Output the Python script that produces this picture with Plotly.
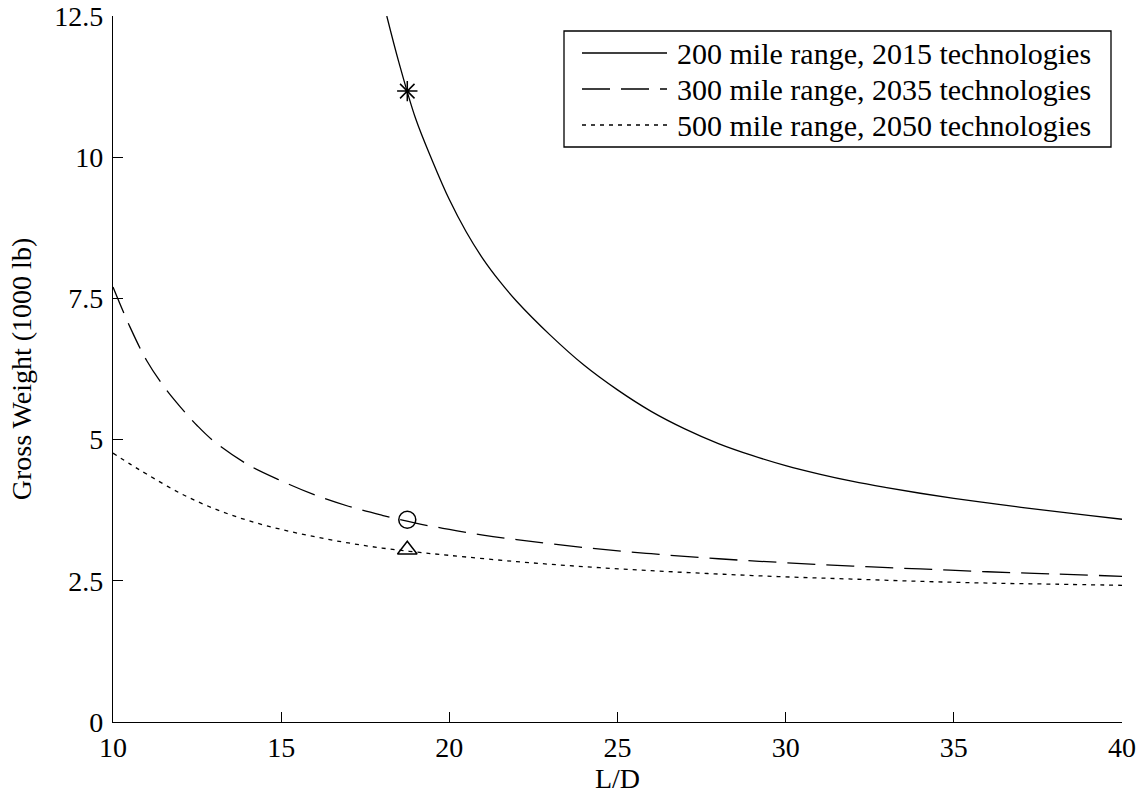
import plotly.graph_objects as go

# ---- data ----
ld_200 = [18.14, 18.5, 19.0, 19.5, 20, 20.5, 21, 21.5, 22, 23, 24, 25, 26, 27, 28, 29, 30,
          31, 32, 33, 34, 35, 36, 37, 38, 39, 40]
gw_200 = [12.5, 11.68, 10.68, 9.93, 9.25, 8.68, 8.2, 7.8, 7.45, 6.85, 6.32, 5.88, 5.5, 5.19, 4.93,
          4.72, 4.54, 4.39, 4.26, 4.15, 4.05, 3.96, 3.88, 3.8, 3.73, 3.66, 3.59]

ld_300 = [10, 10.5, 11, 11.5, 12, 12.5, 13, 14, 15, 16, 17, 18, 19, 20, 21, 22, 24, 26, 28, 30,
          32, 34, 36, 38, 40]
gw_300 = [7.70, 7.0, 6.4, 5.95, 5.58, 5.25, 4.97, 4.56, 4.27, 4.02, 3.82, 3.66, 3.52, 3.41, 3.31,
          3.23, 3.09, 2.98, 2.89, 2.82, 2.76, 2.71, 2.66, 2.62, 2.58]

ld_500 = [10, 10.5, 11, 12, 13, 14, 15, 16, 17, 18, 19, 20, 22, 24, 26, 28, 30, 32, 34, 36, 38, 40]
gw_500 = [4.76, 4.57, 4.39, 4.05, 3.78, 3.57, 3.41, 3.28, 3.17, 3.08, 3.01, 2.95, 2.84, 2.75, 2.68,
          2.62, 2.57, 2.53, 2.49, 2.46, 2.44, 2.42]

design_ld = [18.75, 18.75, 18.75]
design_gw = [11.17, 3.58, 3.05]
design_symbols = ["asterisk-open", "circle-open", "triangle-up-open"]

names = ["200 mile range, 2015 technologies",
         "300 mile range, 2035 technologies",
         "500 mile range, 2050 technologies"]

x_ticks = [10, 15, 20, 25, 30, 35, 40]
y_ticks = [0, 2.5, 5, 7.5, 10, 12.5]
y_tick_text = ["0", "2.5", "5", "7.5", "10", "12.5"]

FONT = "Liberation Serif"
W, H = 1148, 798
ML, MR, MT, MB = 113, 26, 16, 76
PW, PH = W - ML - MR, H - MT - MB


def px_x(px):
    return (px - ML) / PW


def px_y(py):
    return (H - MB - py) / PH


dashes = ["solid", "28px,11px", "4px,5px"]

fig = go.Figure()
series = [(ld_200, gw_200), (ld_300, gw_300), (ld_500, gw_500)]
for i, (xs, ys) in enumerate(series):
    fig.add_trace(go.Scatter(x=xs, y=ys, mode="lines", name=names[i], showlegend=False,
                             line=dict(color="black", width=1.3, shape="spline", dash=dashes[i])))
for i in range(3):
    fig.add_trace(go.Scatter(x=[design_ld[i]], y=[design_gw[i]], mode="markers", showlegend=False,
                             marker=dict(symbol=design_symbols[i], size=17, color="black",
                                         line=dict(color="black", width=1.5))))

# ---- legend box (drawn in paper space) ----
shapes = [dict(type="rect", xref="paper", yref="paper",
               x0=px_x(564), x1=px_x(1111), y0=px_y(147), y1=px_y(31),
               line=dict(color="black", width=1.3), fillcolor="white", layer="above")]
annotations = []
row_y = [53, 89, 125]
for i in range(3):
    shapes.append(dict(type="line", xref="paper", yref="paper",
                       x0=px_x(582), x1=px_x(667), y0=px_y(row_y[i]), y1=px_y(row_y[i]),
                       line=dict(color="black", width=1.3, dash=dashes[i]), layer="above"))
    annotations.append(dict(xref="paper", yref="paper", x=px_x(675), y=px_y(row_y[i] + 1),
                            xanchor="left", yanchor="middle", showarrow=False, text=names[i],
                            font=dict(family=FONT, size=30, color="black")))

fig.update_layout(
    width=W, height=H,
    margin=dict(l=ML, r=MR, t=MT, b=MB, autoexpand=False),
    paper_bgcolor="white", plot_bgcolor="white",
    font=dict(family=FONT, size=28, color="black"),
    showlegend=False,
    shapes=shapes, annotations=annotations,
    xaxis=dict(range=[10, 40], tickvals=x_ticks, ticks="inside", ticklen=10, tickwidth=1.3,
               tickcolor="black", showline=True, linecolor="black", linewidth=1.3,
               showgrid=False, zeroline=False, automargin=False,
               tickfont=dict(family=FONT, size=28),
               title=dict(text="L/D", font=dict(family=FONT, size=28), standoff=6)),
    yaxis=dict(range=[0, 12.5], tickvals=y_ticks, ticktext=y_tick_text, ticks="inside", ticklen=10,
               tickwidth=1.3, tickcolor="black", showline=True, linecolor="black", linewidth=1.3,
               showgrid=False, zeroline=False, automargin=False, ticklabelstandoff=3,
               tickfont=dict(family=FONT, size=28),
               title=dict(text="Gross Weight (1000 lb)", font=dict(family=FONT, size=28), standoff=14)),
)

fig.write_html("out.html")
